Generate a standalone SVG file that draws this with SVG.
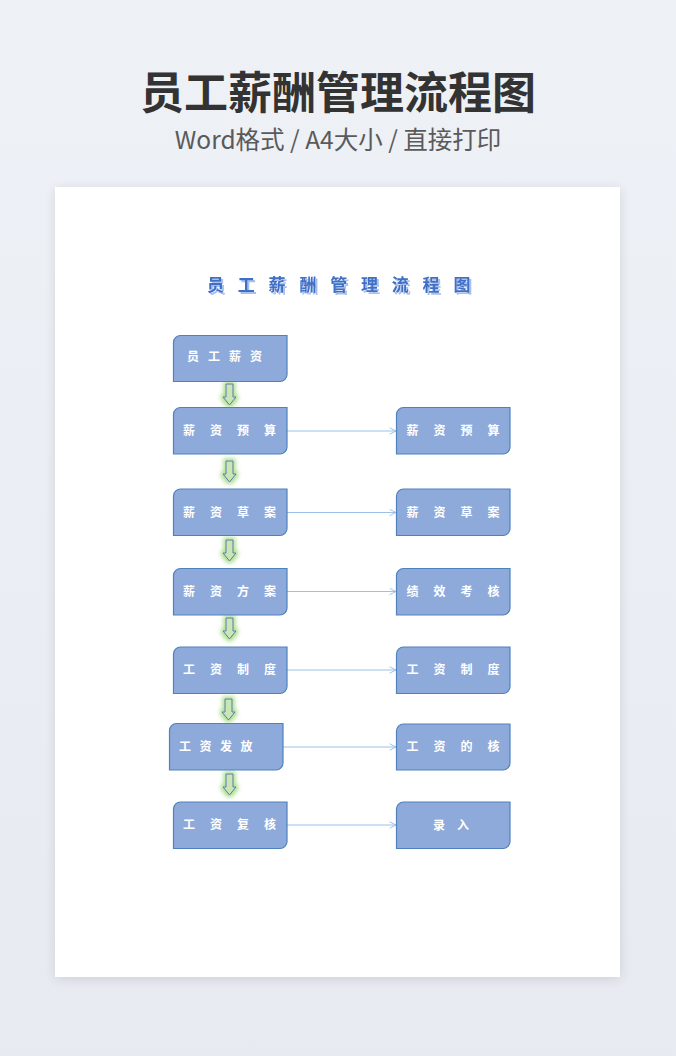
<svg xmlns="http://www.w3.org/2000/svg" width="676" height="1056" viewBox="0 0 676 1056">
<defs>
<linearGradient id="bg" x1="0" y1="0" x2="0" y2="1">
<stop offset="0" stop-color="#eef1f6"/>
<stop offset="1" stop-color="#e7eaf1"/>
</linearGradient>
<filter id="cardShadow" x="-10%" y="-10%" width="120%" height="120%">
<feGaussianBlur in="SourceAlpha" stdDeviation="6"/>
<feOffset dx="0" dy="2"/>
<feComponentTransfer><feFuncA type="linear" slope="0.12"/></feComponentTransfer>
<feMerge><feMergeNode/><feMergeNode in="SourceGraphic"/></feMerge>
</filter>
<filter id="glow2" x="-100%" y="-50%" width="300%" height="200%">
<feMorphology in="SourceAlpha" operator="dilate" radius="1.5" result="d"/>
<feGaussianBlur in="d" stdDeviation="2" result="b"/>
<feFlood flood-color="#9ad877" flood-opacity="0.85"/>
<feComposite operator="in" in2="b" result="g"/>
<feMerge><feMergeNode in="g"/><feMergeNode in="SourceGraphic"/></feMerge>
</filter>
<filter id="titleShadow" x="-5%" y="-20%" width="110%" height="140%">
<feOffset in="SourceAlpha" dx="1.5" dy="1.5" result="o"/>
<feFlood flood-color="#a9c1ea"/>
<feComposite operator="in" in2="o" result="s"/>
<feMerge><feMergeNode in="s"/><feMergeNode in="SourceGraphic"/></feMerge>
</filter>
<marker id="open" viewBox="0 0 10 10" refX="9" refY="5" markerWidth="8" markerHeight="8" markerUnits="userSpaceOnUse" orient="auto">
<path d="M1,1 L9,5 L1,9" fill="none" stroke="#9cc0e6" stroke-width="1.2"/>
</marker>
<path id="downArrow" d="M-3.5,0 L3.5,0 L3.5,13 L6.5,13 L0,21 L-6.5,13 L-3.5,13 Z"/>
</defs>
<style>
.box{fill:#8eaadb;stroke:#4f81bd;stroke-width:1.2}
.lbl{font-family:"Noto Sans CJK SC","Noto Sans",sans-serif;font-size:12px;font-weight:700;fill:#ffffff}
.conn{stroke:#9cc0e6;stroke-width:1;fill:none}
.garrow{fill:#c9e6b4;stroke:#5a78a8;stroke-width:1}
</style>
<rect x="0" y="0" width="676" height="1056" fill="url(#bg)"/>
<text x="338" y="109" text-anchor="middle" font-family="Noto Sans CJK SC, sans-serif" font-size="44" font-weight="700" fill="#333333">员工薪酬管理流程图</text>
<text x="338" y="149" text-anchor="middle" font-family="Noto Sans CJK SC, Noto Sans, sans-serif" font-size="24.5" font-weight="400" fill="#5a5a5a">Word格式 / A4大小 / 直接打印</text>
<rect x="55" y="187" width="565" height="790" fill="#ffffff" filter="url(#cardShadow)"/>
<text x="207" y="291" font-family="Noto Sans CJK SC, sans-serif" font-size="17" font-weight="700" letter-spacing="13.8" fill="#3f6fc6" filter="url(#titleShadow)">员工薪酬管理流程图</text>

<g id="connectors">
<line class="conn" x1="287" y1="431" x2="396" y2="431" marker-end="url(#open)"/>
<line class="conn" x1="287" y1="512.5" x2="396" y2="512.5" marker-end="url(#open)"/>
<line class="conn" x1="287" y1="591.5" x2="396" y2="591.5" marker-end="url(#open)"/>
<line class="conn" x1="287" y1="670" x2="396" y2="670" marker-end="url(#open)"/>
<line class="conn" x1="283" y1="747" x2="396" y2="747" marker-end="url(#open)"/>
<line class="conn" x1="287" y1="825" x2="396" y2="825" marker-end="url(#open)"/>
<g filter="url(#glow2)">
<use href="#downArrow" class="garrow" transform="translate(229.5,384)"/>
<use href="#downArrow" class="garrow" transform="translate(229.5,461)"/>
<use href="#downArrow" class="garrow" transform="translate(229.5,540)"/>
<use href="#downArrow" class="garrow" transform="translate(229.5,618)"/>
<use href="#downArrow" class="garrow" transform="translate(228.5,699)"/>
<use href="#downArrow" class="garrow" transform="translate(229.5,774)"/>
</g>
</g>

<g id="n1"><path class="box" d="M181,335.5 H287 V374.5 A7,7 0 0 1 280,381.5 H173.5 V342.5 A7,7 0 0 1 181,335.5 Z"/><text class="lbl" x="187" y="361" letter-spacing="9">员工薪资</text></g>
<g id="n2"><path class="box" d="M181,407.5 H287 V447 A7,7 0 0 1 280,454 H173.5 V414.5 A7,7 0 0 1 181,407.5 Z"/><text class="lbl" x="183" y="435" letter-spacing="15">薪资预算</text></g>
<g id="n3"><path class="box" d="M181,489 H287 V528.5 A7,7 0 0 1 280,535.5 H173.5 V496 A7,7 0 0 1 181,489 Z"/><text class="lbl" x="183" y="516.5" letter-spacing="15">薪资草案</text></g>
<g id="n4"><path class="box" d="M181,568.5 H287 V608 A7,7 0 0 1 280,615 H173.5 V575.5 A7,7 0 0 1 181,568.5 Z"/><text class="lbl" x="183" y="595.5" letter-spacing="15">薪资方案</text></g>
<g id="n5"><path class="box" d="M181,647 H287 V686.5 A7,7 0 0 1 280,693.5 H173.5 V654 A7,7 0 0 1 181,647 Z"/><text class="lbl" x="183" y="674" letter-spacing="15">工资制度</text></g>
<g id="n6"><path class="box" d="M176.5,723.5 H283 V763 A7,7 0 0 1 276,770 H169.5 V730.5 A7,7 0 0 1 176.5,723.5 Z"/><text class="lbl" x="179" y="751" letter-spacing="8.5">工资发放</text></g>
<g id="n7"><path class="box" d="M181,802 H287 V841.5 A7,7 0 0 1 280,848.5 H173.5 V809 A7,7 0 0 1 181,802 Z"/><text class="lbl" x="183" y="829" letter-spacing="15">工资复核</text></g>

<g id="r1"><path class="box" d="M403.5,407.5 H510 V447 A7,7 0 0 1 503,454 H396.5 V414.5 A7,7 0 0 1 403.5,407.5 Z"/><text class="lbl" x="406.5" y="435" letter-spacing="15">薪资预算</text></g>
<g id="r2"><path class="box" d="M403.5,489 H510 V528.5 A7,7 0 0 1 503,535.5 H396.5 V496 A7,7 0 0 1 403.5,489 Z"/><text class="lbl" x="406.5" y="516.5" letter-spacing="15">薪资草案</text></g>
<g id="r3"><path class="box" d="M403.5,568.5 H510 V608 A7,7 0 0 1 503,615 H396.5 V575.5 A7,7 0 0 1 403.5,568.5 Z"/><text class="lbl" x="406.5" y="595.5" letter-spacing="15">绩效考核</text></g>
<g id="r4"><path class="box" d="M403.5,647 H510 V686.5 A7,7 0 0 1 503,693.5 H396.5 V654 A7,7 0 0 1 403.5,647 Z"/><text class="lbl" x="406.5" y="674" letter-spacing="15">工资制度</text></g>
<g id="r5"><path class="box" d="M403.5,724 H510 V763 A7,7 0 0 1 503,770 H396.5 V731 A7,7 0 0 1 403.5,724 Z"/><text class="lbl" x="406.5" y="751" letter-spacing="15">工资的核</text></g>
<g id="r6"><path class="box" d="M403.5,802 H510 V841.5 A7,7 0 0 1 503,848.5 H396.5 V809 A7,7 0 0 1 403.5,802 Z"/><text class="lbl" x="433" y="829.5" letter-spacing="12">录入</text></g>
</svg>
